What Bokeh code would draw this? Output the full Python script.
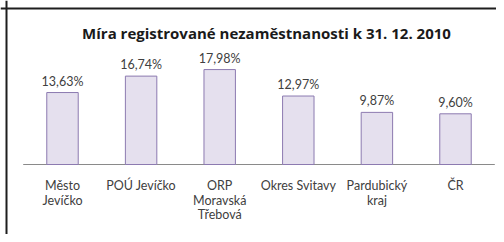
from bokeh.plotting import figure
from bokeh.models import ColumnDataSource, Range1d, Label, Span
from bokeh.embed import file_html
from bokeh.resources import INLINE
from bokeh.core.properties import value

categories = ["Město Jevíčko", "POÚ Jevíčko", "ORP Moravská Třebová", "Okres Svitavy", "Pardubický kraj", "ČR"]
label_line1 = ["Město", "POÚ Jevíčko", "ORP", "Okres Svitavy", "Pardubický", "ČR"]
label_line2 = ["Jevíčko", "", "Moravská", "", "kraj", ""]
label_line3 = ["", "", "Třebová", "", "", ""]
rates = [13.63, 16.74, 17.98, 12.97, 9.87, 9.60]
rate_labels = ["13,63%", "16,74%", "17,98%", "12,97%", "9,87%", "9,60%"]
title_text = "Míra registrované nezaměstnanosti k 31. 12. 2010"

FONT = "Lato"
W, H = 496, 234
PX_PER_CAT = 78.6     # horizontal pixels per category
PX_PER_PCT = 5.28     # vertical pixels per percentage point
FIRST_CX = 62         # pixel centre of first category
BASE_Y = 164          # pixel row of the zero line

x0 = -FIRST_CX / PX_PER_CAT
x1 = x0 + W / PX_PER_CAT
y1 = BASE_Y / PX_PER_PCT
y0 = y1 - H / PX_PER_PCT

pos = list(range(len(categories)))
src = ColumnDataSource(dict(x=pos, cat=categories, rate=rates, lab=rate_labels,
                            l1=label_line1, l2=label_line2, l3=label_line3))

p = figure(width=W, height=H, output_backend="svg", toolbar_location=None,
           x_range=Range1d(x0, x1), y_range=Range1d(y0, y1),
           min_border=0, min_border_left=0, min_border_right=0,
           min_border_top=0, min_border_bottom=0)
p.axis.visible = False
p.grid.visible = False
p.outline_line_color = None
p.background_fill_color = "white"
p.border_fill_color = "white"

# axis line
p.segment(x0=[-0.5], x1=[len(categories) - 0.5], y0=[0], y1=[0],
          line_color="#8a8a8a", line_width=1)

p.vbar(x="x", top="rate", width=0.4, source=src, fill_color="#E5E0EE",
       line_color="#8C7AB0", line_width=1)
p.text(x="x", y="rate", text="lab", source=src, text_align="center",
       text_baseline="bottom", y_offset=-4, text_font=value(FONT),
       text_font_size="12.5px", text_color="#404040")

for col, off in (("l1", 21), ("l2", 35.5), ("l3", 50)):
    p.text(x="x", y=0, text=col, source=src, text_align="center",
           text_baseline="middle", y_offset=off, text_font=value(FONT),
           text_font_size="12.5px", text_color="#404040")

p.add_layout(Label(x=266, y=H - 32, x_units="screen", y_units="screen", text=title_text,
                   text_align="center", text_baseline="middle", text_font="Open Sans",
                   text_font_size="15px", text_font_style="bold", text_color="#1a1a1a"))

# chart-area border (left and top edges)
p.add_layout(Span(location=x0 + 6 / PX_PER_CAT, dimension="height",
                  line_color="#1e1e1e", line_width=2))
p.add_layout(Span(location=y1 - 8 / PX_PER_PCT, dimension="width",
                  line_color="#1e1e1e", line_width=2))

open("out.html", "w").write(file_html(p, INLINE))
